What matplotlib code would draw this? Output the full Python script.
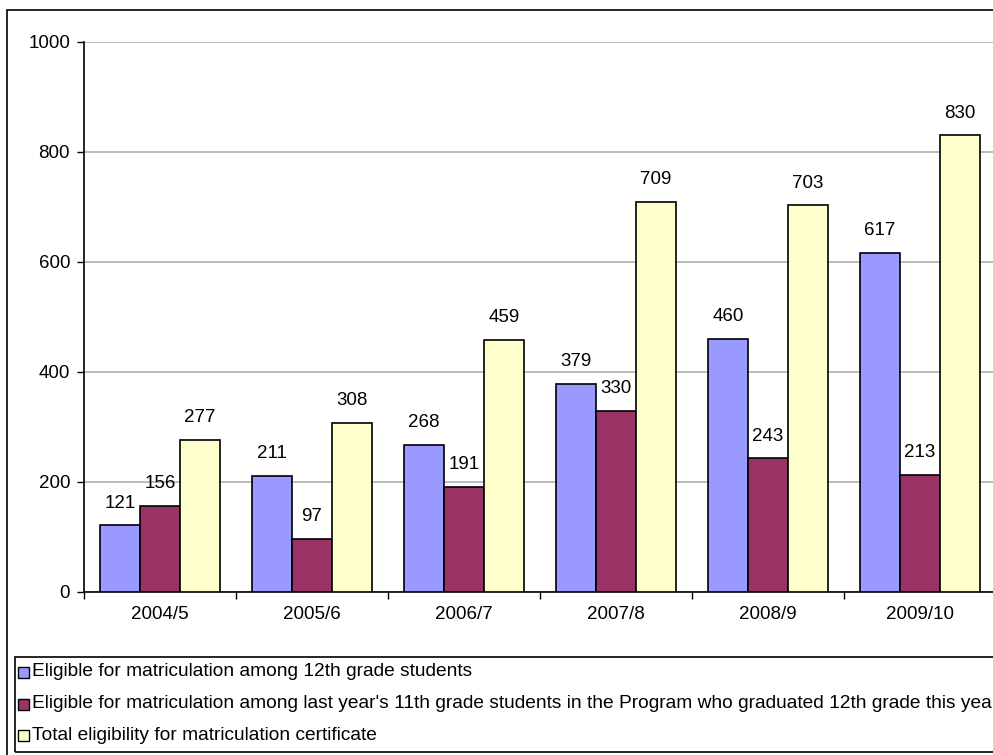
import matplotlib
matplotlib.use("Agg")
import matplotlib.pyplot as plt
from matplotlib.patches import Rectangle
import numpy as np

plt.rcParams['font.family'] = ['Liberation Sans', 'DejaVu Sans']

years = ["2004/5", "2005/6", "2006/7", "2007/8", "2008/9", "2009/10"]
eligible_12th = [121, 211, 268, 379, 460, 617]
eligible_program = [156, 97, 191, 330, 243, 213]
total_eligible = [277, 308, 459, 709, 703, 830]

series_names = [
    "Eligible for matriculation among 12th grade students",
    "Eligible for matriculation among last year's 11th grade students in the Program who graduated 12th grade this year",
    "Total eligibility for matriculation certificate",
]
colors = ["#9999FF", "#993366", "#FFFFCC"]
yticks = [0, 200, 400, 600, 800, 1000]

W, H = 993, 755
fig = plt.figure(figsize=(W / 100, H / 100), dpi=100)

# chart frame
fig.patches.append(Rectangle((7 / W, -0.1), 1.2, 0.1 + (755 - 10) / H,
                             transform=fig.transFigure, fill=False,
                             edgecolor="black", linewidth=1.2, zorder=0))

ax = fig.add_axes([84 / W, 1 - 592 / H, (996 - 84) / W, (592 - 42) / H])
x = np.arange(len(years))
bw = 0.263
for i, (vals, col) in enumerate(zip([eligible_12th, eligible_program, total_eligible], colors)):
    pos = x + (i - 1) * bw
    ax.bar(pos, vals, width=bw, color=col, edgecolor="black", linewidth=1.2, zorder=3)
    for p, v in zip(pos, vals):
        ax.text(p, v + 25, str(v), ha="center", va="bottom", fontsize=13.5, zorder=4)

ax.set_xlim(-0.5, len(years) - 0.5)
ax.set_ylim(0, 1000)
ax.set_yticks(yticks)
ax.set_yticklabels([str(t) for t in yticks], fontsize=13.5)
ax.yaxis.grid(True, color="#b0b0b0", linewidth=1.2, zorder=0)
ax.set_xticks(x)
ax.set_xticklabels(years, fontsize=13.5)
ax.set_xticks(np.arange(-0.5, len(years)), minor=True)
ax.tick_params(axis="x", which="major", length=0, pad=10)
ax.tick_params(axis="x", which="minor", length=5, width=1)
ax.tick_params(axis="y", length=5, width=1, pad=5)
for s in ["top", "right"]:
    ax.spines[s].set_visible(False)
for s in ["left", "bottom"]:
    ax.spines[s].set_linewidth(1.2)

# legend box
fig.patches.append(Rectangle((15 / W, 1 - 752 / H), 1.2, (752 - 657) / H,
                             transform=fig.transFigure, fill=False,
                             edgecolor="black", linewidth=1.2, zorder=0))
for name, col, yc in zip(series_names, colors, [672, 704, 735]):
    fig.patches.append(Rectangle((18 / W, 1 - (yc + 5.5) / H), 11 / W, 11 / H,
                                 transform=fig.transFigure, facecolor=col,
                                 edgecolor="black", linewidth=1))
    fig.text(32 / W, 1 - yc / H, name, ha="left", va="center", fontsize=13.8)

fig.savefig("out.png", dpi=100)
